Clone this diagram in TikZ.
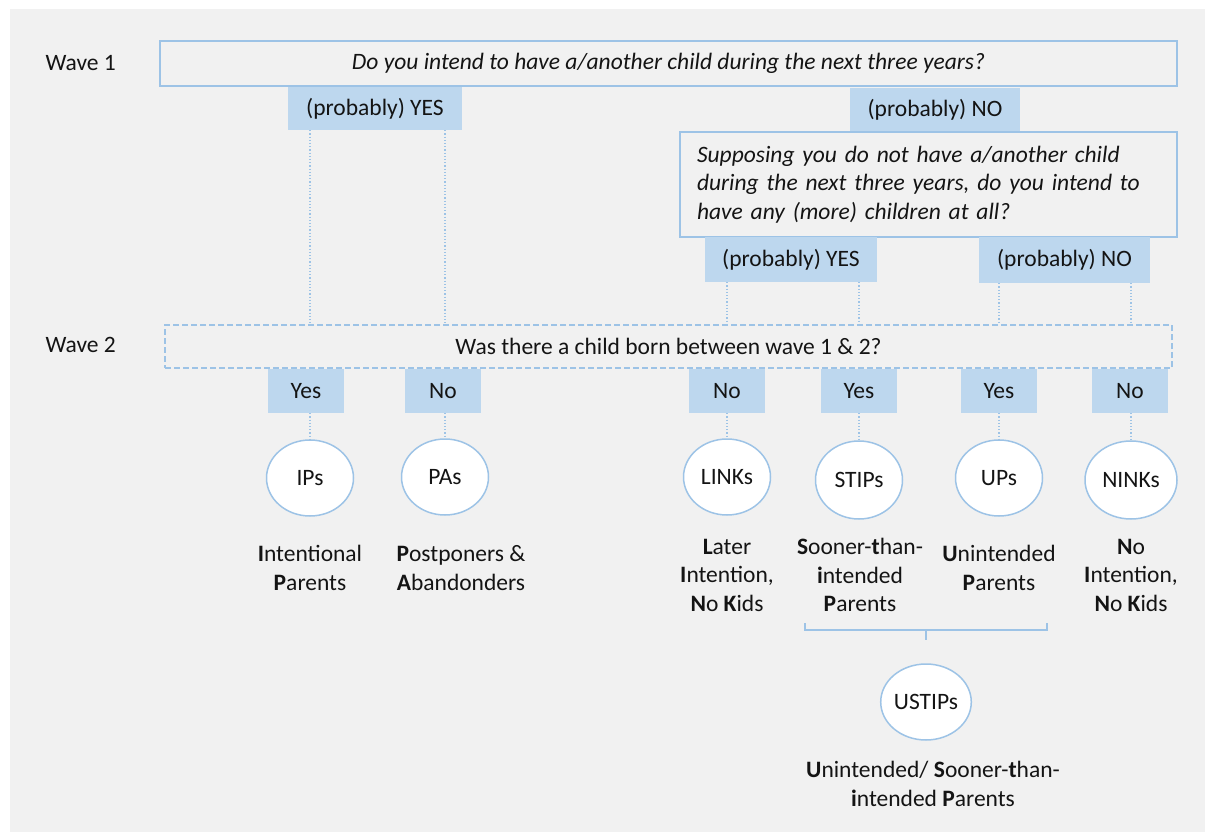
\documentclass[tikz,border=0pt]{standalone}
\usepackage{fontspec}
\setmainfont{Carlito}
\usetikzlibrary{shapes.geometric}
\definecolor{qline}{RGB}{157,195,230}
\definecolor{ansfill}{RGB}{189,215,238}
\definecolor{bggray}{RGB}{241,241,241}
\definecolor{ink}{RGB}{20,20,20}

\begin{document}
\begin{tikzpicture}[x=1pt,y=-1pt,
  every node/.style={font=\fontsize{23.5}{28.5}\selectfont, text=ink},
  question/.style={draw=qline, line width=1.5pt, inner sep=0pt, font=\fontsize{23.5}{28.5}\selectfont\itshape},
  answer/.style={fill=ansfill, inner sep=0pt},
  group/.style={ellipse, draw=qline, line width=1.5pt, fill=white, inner sep=0pt, minimum width=87pt, minimum height=76pt},
  desc/.style={align=center, inner sep=0pt},
  link/.style={draw=qline, line width=1.2pt, dotted}]
\fill[bggray] (10,9) rectangle (1205,832);
\useasboundingbox (0,0) rectangle (1205,832);

\node[anchor=west] (w1) at (42,63) {Wave 1};
\node[question, minimum width=1017pt, minimum height=45pt] (q1) at (668.5,63.5) {Do you intend to have a/another child during the next three years?};
\node[answer, minimum width=174pt, minimum height=43pt] (y1) at (375,108.5) {(probably) YES};
\node[answer, minimum width=170pt, minimum height=43pt] (n1) at (935,109.5) {(probably) NO};
\node[question, minimum width=497pt, minimum height=105pt, text width=463pt, align=left] (q2) at (928.5,184.5) {Supposing you do not have a/another child\\during the next three years, do you intend to\\have any (more) children at all?};
\node[answer, minimum width=172pt, minimum height=45pt] (y2) at (791,259.5) {(probably) YES};
\node[answer, minimum width=171pt, minimum height=46pt] (n2) at (1064.5,260) {(probably) NO};

\node[anchor=west] (w2) at (42,345) {Wave 2};
\node[question, dash pattern=on 6pt off 3pt, font=\fontsize{23.5}{28.5}\selectfont, minimum width=1007pt, minimum height=43pt] (q3) at (668.5,346.5) {Was there a child born between wave 1 \& 2?};

\foreach \name/\x/\lab in {ips/306/Yes, pas/443/No, links/727/No, stips/859/Yes, ups/999/Yes, ninks/1130/No}
  \node[answer, minimum width=76pt, minimum height=44pt] (\name-a) at (\x,391) {\lab};

\node[group] (ips) at (310,478) {IPs};
\node[group] (pas) at (445,477) {PAs};
\node[group] (links) at (727,477) {LINKs};
\node[group, minimum height=78pt] (stips) at (859,480) {STIPs};
\node[group] (ups) at (999,478) {UPs};
\node[group, minimum width=92pt, minimum height=78pt] (ninks) at (1131,480) {NINKs};

\node[desc] (ips-d) at (310,568) {\textbf{I}ntentional\\\textbf{P}arents};
\node[desc] (pas-d) at (461,568) {\textbf{P}ostponers \&\\\textbf{A}bandonders};
\node[desc] (links-d) at (727,575) {\textbf{L}ater\\\textbf{I}ntention,\\\textbf{N}o \textbf{K}ids};
\node[desc] (stips-d) at (860,575) {\textbf{S}ooner-\textbf{t}han-\\\textbf{i}ntended\\\textbf{P}arents};
\node[desc] (ups-d) at (999,568) {\textbf{U}nintended\\\textbf{P}arents};
\node[desc] (ninks-d) at (1131,575) {\textbf{N}o\\\textbf{I}ntention,\\\textbf{N}o \textbf{K}ids};

\foreach \name in {ips,pas} \draw[link] (y1.south -| \name) -- (q3.north -| \name);
\foreach \name in {links,stips} \draw[link] (y2.south -| \name) -- (q3.north -| \name);
\foreach \name in {ups,ninks} \draw[link] (n2.south -| \name) -- (q3.north -| \name);
\foreach \name in {ips,pas,links,stips,ups,ninks} \draw[link] (\name-a.south -| \name) -- (\name.north);

\draw[qline, line width=1.2pt] (805,623) -- (805,630) -- (1047,630) -- (1047,623) (926,630) -- (926,640);
\node[group, minimum width=88pt] (ustips) at (926,702) {USTIPs};
\node[desc] (ustips-d) at (933,784) {\textbf{U}nintended/ \textbf{S}ooner-\textbf{t}han-\\\textbf{i}ntended \textbf{P}arents};
\end{tikzpicture}
\end{document}
